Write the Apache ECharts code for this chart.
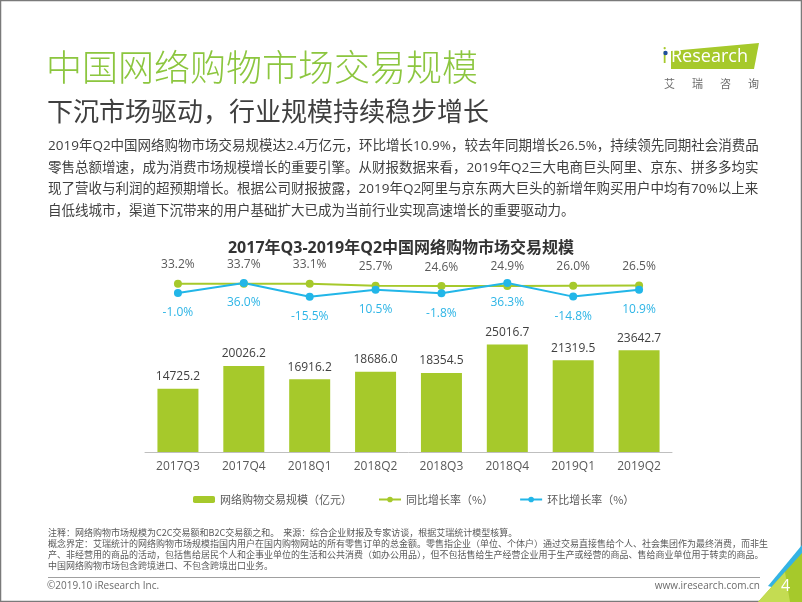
<!DOCTYPE html>
<html>
<head>
<meta charset="utf-8">
<script src="https://cdn.jsdelivr.net/npm/echarts@6/dist/echarts.min.js"></script>
<style>
html,body{margin:0;padding:0;background:#fff;}
#c{width:802px;height:602px;}
</style>
</head>
<body>
<div id="c"></div>
<script>
const categories = ['2017Q3','2017Q4','2018Q1','2018Q2','2018Q3','2018Q4','2019Q1','2019Q2'];
const marketScale = [14725.2, 20026.2, 16916.2, 18686.0, 18354.5, 25016.7, 21319.5, 23642.7];
const yoyGrowth = [33.2, 33.7, 33.1, 25.7, 24.6, 24.9, 26.0, 26.5];
const qoqGrowth = [-1.0, 36.0, -15.5, 10.5, -1.8, 36.3, -14.8, 10.9];
const seriesNames = ['网络购物交易规模（亿元）', '同比增长率（%）', '环比增长率（%）'];

const pageTitle = '中国网络购物市场交易规模';
const pageSubtitle = '下沉市场驱动，行业规模持续稳步增长';
const bodyLines = [
  '2019年Q2中国网络购物市场交易规模达2.4万亿元，环比增长10.9%，较去年同期增长26.5%，持续领先同期社会消费品',
  '零售总额增速，成为消费市场规模增长的重要引擎。从财报数据来看，2019年Q2三大电商巨头阿里、京东、拼多多均实',
  '现了营收与利润的超预期增长。根据公司财报披露，2019年Q2阿里与京东两大巨头的新增年购买用户中均有70%以上来',
  '自低线城市，渠道下沉带来的用户基础扩大已成为当前行业实现高速增长的重要驱动力。'
];
const chartTitle = '2017年Q3-2019年Q2中国网络购物市场交易规模';
const noteLines = [
  '注释：网络购物市场规模为C2C交易额和B2C交易额之和。  来源：综合企业财报及专家访谈，根据艾瑞统计模型核算。',
  '概念界定：艾瑞统计的网络购物市场规模指国内用户在国内购物网站的所有零售订单的总金额。零售指企业（单位、个体户）通过交易直接售给个人、社会集团作为最终消费，而非生',
  '产、非经营用的商品的活动，包括售给居民个人和企事业单位的生活和公共消费（如办公用品），但不包括售给生产经营企业用于生产或经营的商品、售给商业单位用于转卖的商品。',
  '中国网络购物市场包含跨境进口、不包含跨境出口业务。'
];
const copyright = '©2019.10 iResearch Inc.';
const website = 'www.iresearch.com.cn';
const pageNo = '4';

const FONT = "'Open Sans','Noto Sans CJK SC',sans-serif";
const GREEN = '#A6C92B';
const BLUE = '#22B6E8';

const chart = echarts.init(document.getElementById('c'), null, {renderer:'canvas'});

const graphics = [];
// frame
graphics.push({type:'rect', shape:{x:0.5,y:0.5,width:801,height:601}, style:{fill:'none', stroke:'#7a7a7a', lineWidth:1.5}, silent:true});
// page title
graphics.push({type:'text', left:46, top:49, style:{text:pageTitle, font:"300 36px 'Noto Sans CJK SC'", fill:'#8CC63F'}});
graphics.push({type:'text', left:47, top:98, style:{text:pageSubtitle, font:"400 26px 'Noto Sans CJK SC'", fill:'#3f3f3f'}});
bodyLines.forEach((t,i)=>{
  graphics.push({type:'text', left:48, top:139.5 + i*21.7, style:{text:t, font:"13.5px " + FONT, fill:'#404040'}});
});
// logo
graphics.push({type:'polygon', shape:{points:[[671,51],[759,43],[754,69],[671,69]]}, style:{fill:'#A6C92B'}});
graphics.push({type:'text', left:662, top:47, style:{text:'i', font:"400 21px 'Open Sans'", fill:'#A6C92B'}});
graphics.push({type:'circle', shape:{cx:665.5,cy:53,r:2.2}, style:{fill:'#1F4E9B'}});
graphics.push({type:'text', left:671, top:48, style:{text:'Research', font:"400 18px 'Open Sans'", fill:'#ffffff'}});
['艾','瑞','咨','询'].forEach((ch,i)=>{
  graphics.push({type:'text', left:664 + i*28, top:78, style:{text:ch, font:"11px 'Noto Sans CJK SC'", fill:'#6b6b6b'}});
});
// chart title
graphics.push({type:'text', left:'center', top:240, style:{text:chartTitle, font:"bold 16px " + FONT, fill:'#333333'}});
// notes
noteLines.forEach((t,i)=>{
  graphics.push({type:'text', left:48, top:528 + i*11, style:{text:t, font:"9px 'Noto Sans CJK SC'", fill:'#595959'}});
});
graphics.push({type:'line', shape:{x1:48,y1:577.5,x2:760,y2:577.5}, style:{stroke:'#a0a0a0', lineWidth:1}});
graphics.push({type:'text', left:47, top:581, style:{text:copyright, font:"10px " + FONT, fill:'#6b6b6b'}});
graphics.push({type:'text', right:42, top:581, style:{text:website, font:"10px " + FONT, fill:'#6b6b6b'}});
// corner decoration
graphics.push({type:'polygon', shape:{points:[[768,586],[802,545],[802,556],[775,588]]}, style:{fill:'#34B3E4'}});
graphics.push({type:'polygon', shape:{points:[[758,602],[802,553],[802,602]]}, style:{fill:'#A6C92B'}});
graphics.push({type:'polygon', shape:{points:[[758,602],[785,572],[790,602]]}, style:{fill:'#C4DC52'}});
graphics.push({type:'text', left:781, top:578, style:{text:pageNo, font:"16px " + FONT, fill:'#ffffff'}});

const option = {
  animation:false,
  textStyle:{fontFamily:FONT},
  legend:{
    left:188, top:489, itemWidth:22, itemHeight:7, itemGap:26,
    data:seriesNames,
    textStyle:{fontSize:11, color:'#595959', fontFamily:"'Noto Sans CJK SC'"}
  },
  grid:[
    {left:145, width:527, top:323, height:129},
    {left:145, width:527, top:282, height:16}
  ],
  xAxis:[
    {type:'category', gridIndex:0, data:categories,
     axisLine:{lineStyle:{color:'#BFBFBF', width:1}}, axisTick:{show:false},
     axisLabel:{color:'#595959', fontSize:12, margin:9}},
    {type:'category', gridIndex:1, data:categories, show:false}
  ],
  yAxis:[
    {type:'value', gridIndex:0, min:0, max:30000, show:false, splitLine:{show:false}},
    {type:'value', gridIndex:1, min:-20, max:40, show:false, splitLine:{show:false}}
  ],
  series:[
    {name:seriesNames[0], type:'bar', xAxisIndex:0, yAxisIndex:0, data:marketScale, barWidth:41,
     itemStyle:{color:GREEN},
     label:{show:true, position:'top', distance:6, color:'#404040', fontSize:12, formatter:p=>p.value.toFixed(1)}},
    {name:seriesNames[1], type:'line', xAxisIndex:1, yAxisIndex:1, data:yoyGrowth,
     symbol:'circle', symbolSize:8, lineStyle:{color:GREEN, width:2}, itemStyle:{color:GREEN},
     label:{show:true, position:'top', distance:9, color:'#595959', fontSize:12, formatter:p=>p.value.toFixed(1)+'%'}},
    {name:seriesNames[2], type:'line', xAxisIndex:1, yAxisIndex:1, data:qoqGrowth,
     symbol:'circle', symbolSize:8, lineStyle:{color:BLUE, width:2}, itemStyle:{color:BLUE},
     label:{show:true, position:'bottom', distance:10, color:'#2EB5E6', fontSize:12, formatter:p=>p.value.toFixed(1)+'%'}}
  ],
  graphic:graphics
};
chart.setOption(option);
</script>
</body>
</html>
